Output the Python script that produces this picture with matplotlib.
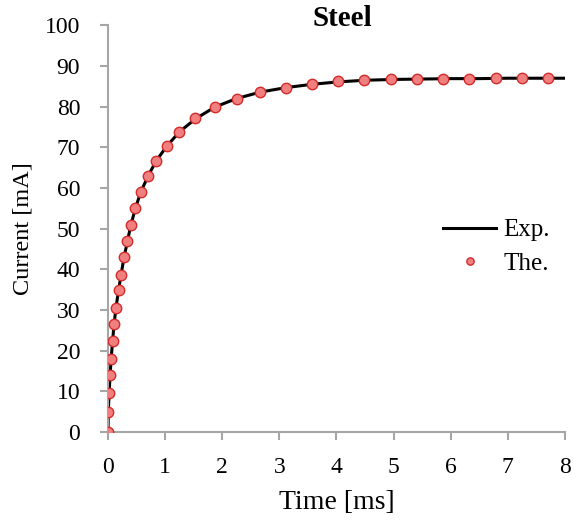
import numpy as np
import matplotlib.pyplot as plt

# Datos
exp_t = [0, 0.005, 0.02, 0.035, 0.055, 0.08, 0.105, 0.14, 0.185, 0.23, 0.28,
         0.34, 0.40, 0.48, 0.57, 0.70, 0.84, 1.03, 1.25, 1.53, 1.87, 2.25,
         2.67, 3.12, 3.57, 4.03, 4.50, 5.00, 5.50, 6.00, 6.50, 7.00, 7.50, 8.00]
exp_i = [0, 5.0, 9.6, 13.8, 18.0, 22.3, 26.4, 30.6, 34.9, 38.8, 42.9,
         46.9, 50.9, 55.0, 58.9, 62.9, 66.6, 70.3, 73.8, 77.0, 79.9, 82.0,
         83.6, 84.7, 85.5, 86.1, 86.5, 86.7, 86.8, 86.9, 86.9, 87.0, 87.0, 87.0]

the_t = [0, 0.005, 0.02, 0.035, 0.055, 0.08, 0.105, 0.14, 0.187, 0.228, 0.275,
         0.338, 0.397, 0.478, 0.573, 0.706, 0.84, 1.03, 1.25, 1.53, 1.87, 2.25,
         2.67, 3.12, 3.57, 4.03, 4.48, 4.96, 5.41, 5.87, 6.32, 6.80, 7.25, 7.71]
the_i = [0, 5.0, 9.7, 13.9, 18.0, 22.4, 26.5, 30.5, 34.9, 38.7, 43.0,
         46.9, 51.0, 55.0, 58.9, 62.9, 66.7, 70.3, 73.8, 77.1, 79.9, 82.0,
         83.6, 84.7, 85.5, 86.2, 86.5, 86.7, 86.7, 86.9, 86.9, 87.0, 87.0, 87.0]

plt.rcParams['font.family'] = ['Liberation Serif', 'DejaVu Serif']

fig = plt.figure(figsize=(5.88, 5.24), dpi=100)
ax = fig.add_axes([0.1837, 0.1756, 0.777, 0.776])

ax.plot(exp_t, exp_i, color='black', linewidth=2.2, label='Exp.', zorder=2)
ax.plot(the_t, the_i, linestyle='none', marker='o', markersize=7.5,
        markerfacecolor='#f08080', markeredgecolor='#d42a2a',
        markeredgewidth=1.0, label='The.', zorder=3)

ax.set_xlim(0, 8)
ax.set_ylim(0, 100)
ax.set_xticks(range(0, 9))
ax.set_yticks(range(0, 101, 10))

for s in ['top', 'right']:
    ax.spines[s].set_visible(False)
for s in ['left', 'bottom']:
    ax.spines[s].set_color('#a6a6a6')
    ax.spines[s].set_linewidth(1.5)
ax.tick_params(direction='out', length=6, width=1.5, color='#a6a6a6',
               labelsize=17)
ax.tick_params(axis='y', pad=14)
ax.tick_params(axis='x', pad=12)

ax.set_xlabel('Time [ms]', fontsize=20, labelpad=9)
ax.set_ylabel('Current [mA]', fontsize=17.5, labelpad=8)
fig.text(0.582, 0.965, 'Steel', fontsize=21, fontweight='bold',
         ha='center', va='center')

leg = ax.legend(loc='center left', bbox_to_anchor=(0.685, 0.455), frameon=False,
                fontsize=18, handlelength=2.1, handletextpad=0.3,
                labelspacing=0.45, markerscale=0.7)

fig.savefig('out.png', dpi=100)
